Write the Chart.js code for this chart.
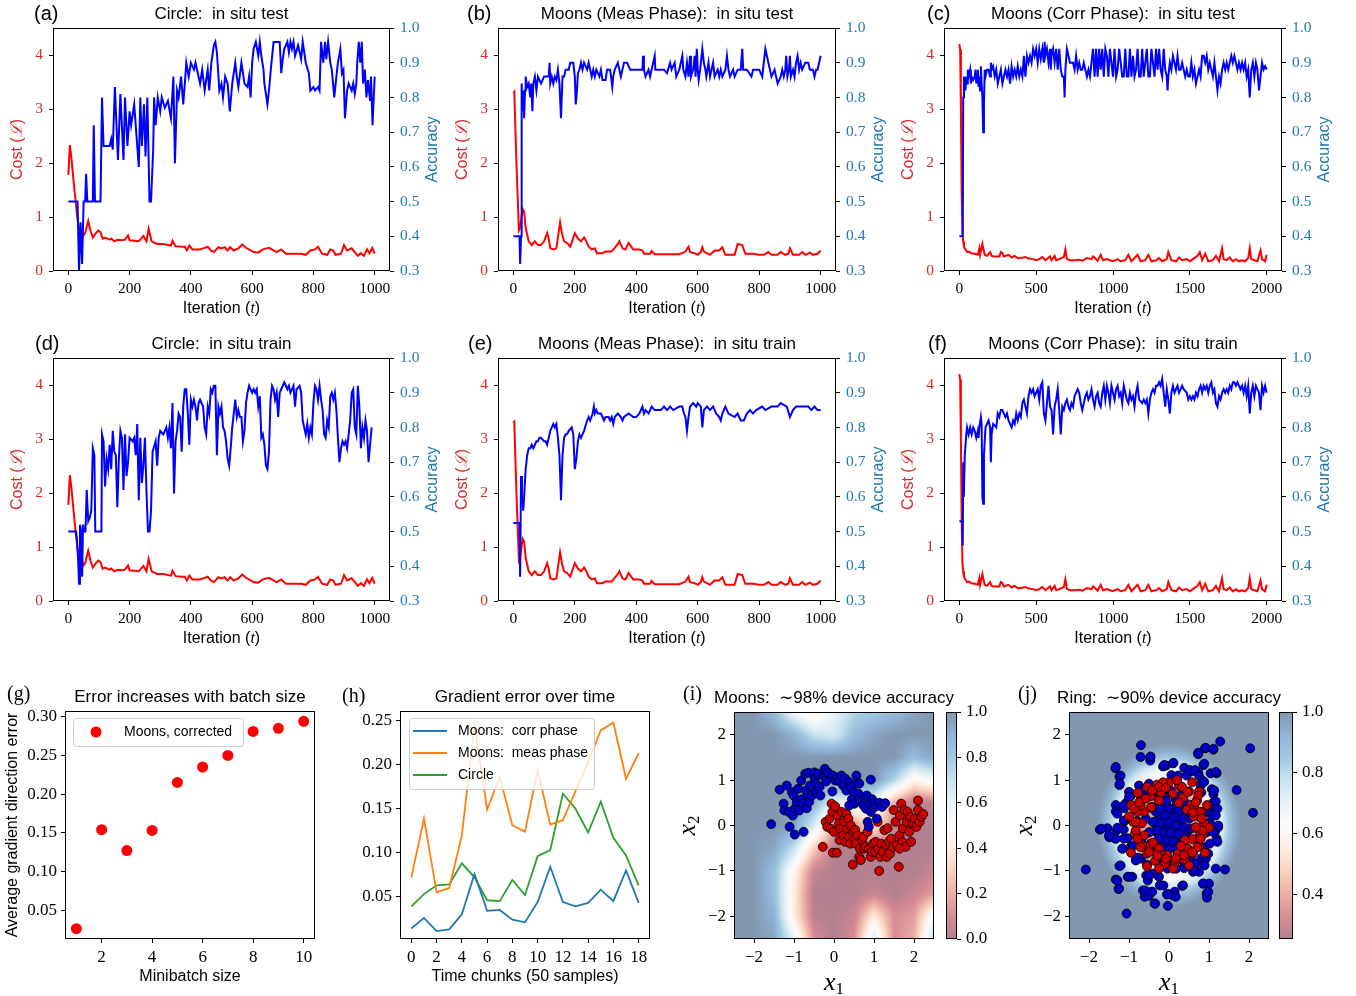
<!DOCTYPE html>
<html>
<head>
<meta charset="utf-8">
<script src="https://cdn.jsdelivr.net/npm/chart.js@4.4.1/dist/chart.umd.min.js"></script>
<style>
  body { margin: 0; background: #fff; width: 1356px; height: 996px; position: relative; overflow: hidden; }
  canvas { position: absolute; }
</style>
</head>
<body>
<canvas id="pa" width="450" height="322" style="left:0;top:0"></canvas>
<canvas id="pb" width="445" height="322" style="left:450px;top:0"></canvas>
<canvas id="pc" width="461" height="322" style="left:895px;top:0"></canvas>
<canvas id="pd" width="450" height="322" style="left:0;top:330px"></canvas>
<canvas id="pe" width="445" height="322" style="left:450px;top:330px"></canvas>
<canvas id="pf" width="461" height="322" style="left:895px;top:330px"></canvas>
<canvas id="pg" width="330" height="321" style="left:0;top:675px"></canvas>
<canvas id="ph" width="330" height="321" style="left:330px;top:675px"></canvas>
<canvas id="pi" width="340" height="321" style="left:660px;top:675px"></canvas>
<canvas id="cbi" width="70" height="321" style="left:940px;top:675px"></canvas>
<canvas id="pj" width="346" height="321" style="left:1010px;top:675px"></canvas>
<canvas id="cbj" width="84" height="321" style="left:1272px;top:675px"></canvas>
<script>
// ---- data ----
// tick labels
const itTicks1000 = [0, 200, 400, 600, 800, 1000];
const itTicks2000 = [0, 500, 1000, 1500, 2000];
const costTicks = [0, 1, 2, 3, 4];
const accTicks = [0.3, 0.4, 0.5, 0.6, 0.7, 0.8, 0.9, 1.0];
const batchTicks = [2, 4, 6, 8, 10];
const gradTicks = [0.05, 0.10, 0.15, 0.20, 0.25, 0.30];
const chunkTicks = [0, 2, 4, 6, 8, 10, 12, 14, 16, 18];
const errTicks = [0.05, 0.10, 0.15, 0.20, 0.25];
const mapTicks = [-2, -1, 0, 1, 2];
const cbTicksI = [0.0, 0.2, 0.4, 0.6, 0.8, 1.0];
const cbTicksJ = [0.4, 0.6, 0.8, 1.0];

// cost curves (shared by the test / train panels of each task), [iteration, cost]
const costCircle = [[0,1.78],[5,2.33],[10,2.1],[20,1.5],[30,0.95],[38,0.72],[45,0.75],[50,0.66],[55,0.7],[60,0.82],[65,0.93],[72,0.75],[80,0.62],[90,0.7],[98,0.75],[105,0.72],[112,0.6],[120,0.62],[135,0.58],[140,0.6],[150,0.55],[160,0.58],[175,0.57],[185,0.58],[195,0.66],[200,0.57],[215,0.56],[230,0.55],[245,0.65],[255,0.55],[262,0.78],[272,0.55],[290,0.5],[310,0.5],[325,0.48],[335,0.47],[340,0.56],[350,0.46],[370,0.45],[380,0.45],[387,0.38],[395,0.47],[405,0.4],[430,0.4],[440,0.42],[455,0.45],[465,0.38],[475,0.35],[490,0.44],[500,0.42],[510,0.44],[520,0.38],[528,0.44],[540,0.38],[555,0.42],[568,0.49],[580,0.43],[595,0.38],[605,0.35],[620,0.34],[635,0.4],[655,0.43],[670,0.38],[680,0.35],[695,0.4],[710,0.32],[740,0.32],[760,0.32],[775,0.3],[790,0.38],[805,0.4],[815,0.45],[828,0.32],[845,0.3],[855,0.4],[865,0.38],[872,0.3],[890,0.32],[900,0.48],[910,0.38],[925,0.42],[935,0.35],[945,0.28],[955,0.33],[965,0.28],[975,0.4],[983,0.33],[992,0.43],[1000,0.32]];
const costMeas = [[0,3.3],[3,3.32],[10,2.0],[18,0.75],[22,0.8],[30,1.15],[35,1.1],[40,0.8],[50,0.55],[60,0.48],[70,0.55],[80,0.48],[90,0.48],[100,0.55],[110,0.7],[115,0.6],[120,0.42],[130,0.4],[140,0.42],[152,0.9],[158,0.7],[165,0.55],[175,0.52],[185,0.45],[200,0.7],[210,0.6],[220,0.55],[230,0.62],[235,0.58],[245,0.45],[255,0.4],[265,0.42],[272,0.33],[290,0.33],[300,0.36],[320,0.36],[340,0.5],[345,0.55],[355,0.42],[365,0.4],[375,0.52],[380,0.48],[390,0.4],[410,0.4],[420,0.38],[425,0.32],[445,0.32],[450,0.37],[460,0.31],[500,0.31],[540,0.31],[560,0.36],[570,0.45],[575,0.35],[590,0.33],[600,0.3],[610,0.35],[615,0.44],[620,0.36],[640,0.3],[655,0.38],[670,0.38],[680,0.44],[690,0.3],[720,0.3],[730,0.5],[745,0.48],[755,0.32],[780,0.32],[800,0.3],[815,0.3],[830,0.35],[840,0.3],[860,0.3],[870,0.35],[885,0.3],[895,0.32],[900,0.42],[910,0.3],[930,0.3],[940,0.35],[950,0.3],[965,0.34],[975,0.3],[990,0.32],[1000,0.38]];
const costCorr = [[0,4.2],[5,4.1],[10,3.0],[15,1.5],[20,0.7],[25,0.55],[30,0.45],[40,0.4],[50,0.35],[60,0.36],[80,0.33],[100,0.32],[120,0.3],[130,0.42],[135,0.3],[150,0.5],[155,0.42],[165,0.3],[180,0.28],[200,0.35],[210,0.28],[230,0.27],[260,0.27],[270,0.35],[280,0.33],[290,0.27],[320,0.3],[340,0.25],[360,0.28],[380,0.24],[400,0.24],[430,0.26],[450,0.23],[480,0.22],[500,0.2],[520,0.22],[540,0.26],[560,0.2],[590,0.27],[600,0.2],[620,0.28],[630,0.2],[650,0.22],[680,0.26],[690,0.4],[700,0.22],[720,0.2],[750,0.2],[780,0.21],[800,0.19],[830,0.24],[860,0.22],[870,0.27],[880,0.25],[900,0.19],[920,0.3],[935,0.2],[960,0.22],[980,0.2],[1000,0.18],[1030,0.22],[1050,0.18],[1080,0.2],[1100,0.3],[1120,0.18],[1160,0.3],[1180,0.18],[1210,0.2],[1230,0.3],[1250,0.18],[1280,0.2],[1300,0.24],[1320,0.18],[1350,0.22],[1360,0.35],[1380,0.2],[1410,0.18],[1430,0.25],[1450,0.2],[1480,0.22],[1500,0.18],[1520,0.22],[1550,0.28],[1565,0.35],[1580,0.2],[1600,0.32],[1620,0.18],[1650,0.2],[1670,0.28],[1690,0.18],[1710,0.42],[1720,0.22],[1740,0.2],[1760,0.25],[1780,0.18],[1800,0.22],[1820,0.18],[1840,0.2],[1860,0.18],[1880,0.24],[1890,0.42],[1900,0.22],[1920,0.2],[1940,0.18],[1960,0.38],[1970,0.22],[1990,0.18],[2000,0.3]];

// accuracy curves, [iteration, accuracy]
const accA = [[0,.5],[30,.5],[35,.3],[40,.44],[45,.32],[50,.5],[55,.5],[58,.58],[62,.5],[80,.5],[83,.72],[87,.5],[105,.5],[110,.8],[115,.66],[135,.66],[140,.68],[145,.65],[152,.83],[162,.62],[170,.81],[180,.62],[185,.8],[193,.66],[200,.76],[205,.72],[215,.78],[230,.6],[235,.8],[240,.66],[247,.78],[252,.63],[258,.8],[265,.5],[270,.5],[277,.65],[280,.8],[285,.72],[292,.8],[300,.76],[305,.8],[315,.77],[325,.79],[335,.74],[343,.86],[348,.61],[355,.82],[360,.8],[368,.86],[375,.78],[382,.86],[385,.9],[393,.86],[400,.9],[410,.88],[415,.9],[430,.84],[437,.88],[445,.82],[455,.88],[460,.82],[467,.9],[475,.95],[480,.96],[485,.93],[493,.82],[500,.84],[505,.8],[512,.86],[520,.84],[527,.76],[535,.84],[545,.9],[550,.86],[555,.83],[565,.9],[575,.84],[585,.83],[590,.86],[595,.8],[600,.9],[605,.94],[612,.96],[620,.92],[625,.96],[630,.92],[637,.88],[640,.84],[650,.78],[655,.82],[662,.89],[670,.96],[680,.96],[690,.96],[695,.87],[700,.91],[705,.94],[715,.96],[720,.93],[725,.96],[730,.94],[735,.96],[740,.92],[750,.95],[760,.91],[765,.96],[775,.9],[785,.87],[790,.82],[800,.83],[805,.82],[815,.83],[820,.82],[825,.96],[832,.9],[838,.96],[842,.91],[848,.96],[855,.9],[860,.88],[868,.8],[875,.86],[880,.9],[888,.94],[893,.87],[898,.88],[903,.74],[910,.82],[915,.84],[925,.82],[930,.84],[935,.81],[940,.84],[943,.9],[948,.96],[953,.9],[958,.96],[962,.84],[968,.88],[973,.8],[978,.85],[985,.79],[988,.86],[993,.72],[1000,.86]];
const accB = [[0,.4],[20,.4],[22,.32],[25,.4],[27,.84],[30,.76],[33,.82],[35,.74],[38,.82],[40,.86],[45,.83],[50,.84],[55,.8],[58,.84],[62,.76],[65,.84],[70,.86],[75,.82],[80,.86],[90,.84],[100,.86],[115,.86],[118,.9],[120,.84],[125,.86],[130,.84],[135,.86],[140,.85],[145,.88],[150,.84],[155,.74],[160,.86],[165,.86],[170,.88],[180,.88],[185,.9],[195,.9],[200,.86],[203,.78],[207,.82],[210,.87],[215,.88],[220,.9],[225,.88],[230,.9],[240,.88],[245,.9],[250,.88],[255,.86],[260,.88],[265,.86],[270,.88],[280,.86],[285,.88],[290,.85],[300,.85],[305,.88],[315,.88],[322,.83],[325,.86],[330,.88],[340,.9],[350,.86],[355,.88],[360,.9],[370,.9],[380,.88],[420,.88],[422,.92],[425,.88],[430,.86],[440,.88],[445,.86],[450,.88],[460,.92],[462,.88],[490,.88],[500,.87],[510,.9],[515,.88],[525,.9],[530,.86],[540,.88],[550,.92],[553,.88],[560,.86],[565,.9],[570,.86],[575,.92],[578,.86],[585,.88],[590,.92],[593,.86],[597,.94],[600,.88],[603,.85],[608,.88],[615,.94],[620,.9],[625,.88],[628,.86],[635,.9],[640,.86],[645,.88],[650,.9],[655,.86],[665,.88],[670,.86],[675,.88],[680,.86],[690,.88],[695,.92],[700,.88],[705,.86],[715,.88],[720,.86],[730,.88],[740,.88],[745,.94],[748,.88],[760,.88],[775,.86],[780,.88],[800,.88],[810,.86],[815,.9],[820,.94],[825,.92],[830,.9],[835,.88],[840,.86],[850,.88],[855,.86],[860,.84],[870,.86],[875,.88],[880,.86],[885,.88],[888,.92],[892,.86],[897,.88],[900,.92],[903,.86],[910,.88],[915,.86],[920,.9],[925,.92],[930,.88],[935,.9],[940,.88],[950,.9],[960,.9],[965,.88],[975,.88],[980,.86],[985,.88],[990,.88],[995,.9],[1000,.92]];
const accC = [[0,.4],[22,.4],[25,.8],[30,.86],[40,.82],[45,.86],[50,.84],[55,.88],[60,.86],[70,.88],[75,.84],[80,.86],[90,.85],[100,.86],[105,.88],[110,.84],[115,.86],[120,.88],[125,.83],[130,.86],[135,.82],[140,.89],[145,.84],[150,.8],[155,.7],[160,.78],[165,.88],[170,.86],[180,.88],[190,.88],[200,.86],[205,.9],[210,.88],[220,.89],[230,.86],[240,.88],[250,.84],[260,.86],[270,.88],[280,.84],[290,.86],[300,.88],[310,.86],[320,.88],[330,.84],[340,.89],[350,.86],[360,.88],[370,.86],[380,.89],[390,.86],[400,.88],[410,.86],[420,.92],[425,.88],[430,.86],[440,.92],[450,.9],[460,.92],[470,.9],[480,.94],[490,.92],[500,.94],[510,.9],[520,.94],[530,.91],[540,.94],[550,.9],[555,.96],[560,.92],[570,.94],[580,.9],[590,.94],[595,.88],[600,.92],[610,.94],[620,.9],[630,.94],[640,.88],[650,.94],[660,.88],[670,.86],[680,.86],[685,.8],[690,.88],[700,.94],[710,.92],[720,.9],[730,.9],[740,.9],[750,.88],[760,.92],[770,.88],[780,.9],[790,.88],[800,.88],[810,.9],[820,.88],[830,.86],[840,.88],[850,.86],[860,.9],[870,.94],[880,.86],[890,.94],[900,.86],[910,.94],[920,.88],[930,.94],[940,.86],[950,.94],[960,.92],[970,.86],[980,.94],[990,.9],[1000,.86],[1010,.94],[1020,.86],[1030,.88],[1040,.94],[1050,.9],[1060,.86],[1070,.86],[1080,.94],[1090,.86],[1100,.86],[1110,.94],[1120,.86],[1130,.92],[1140,.86],[1150,.88],[1160,.94],[1170,.86],[1180,.86],[1190,.94],[1200,.86],[1210,.9],[1220,.94],[1230,.86],[1240,.86],[1250,.94],[1260,.9],[1270,.86],[1280,.94],[1290,.88],[1300,.94],[1310,.88],[1320,.86],[1330,.94],[1340,.88],[1350,.86],[1355,.82],[1360,.86],[1370,.9],[1380,.88],[1390,.92],[1400,.9],[1410,.88],[1420,.92],[1430,.88],[1440,.88],[1450,.9],[1460,.88],[1470,.86],[1480,.88],[1490,.86],[1500,.86],[1510,.9],[1520,.86],[1530,.88],[1540,.84],[1550,.86],[1560,.88],[1570,.86],[1580,.92],[1590,.92],[1600,.9],[1610,.92],[1620,.88],[1630,.9],[1640,.88],[1650,.86],[1660,.9],[1670,.86],[1680,.82],[1690,.86],[1700,.84],[1710,.88],[1720,.9],[1730,.88],[1740,.9],[1750,.88],[1760,.9],[1770,.92],[1780,.9],[1790,.92],[1800,.9],[1810,.88],[1820,.9],[1830,.88],[1840,.9],[1850,.88],[1860,.9],[1870,.86],[1880,.88],[1890,.8],[1900,.88],[1910,.9],[1920,.86],[1930,.9],[1940,.88],[1950,.82],[1960,.86],[1970,.9],[1980,.88],[1990,.89],[2000,.88]];
const accD = [[0,.5],[25,.5],[28,.48],[32,.42],[35,.35],[38,.52],[42,.5],[45,.37],[48,.52],[52,.5],[56,.5],[60,.62],[65,.53],[70,.54],[75,.56],[80,.74],[85,.72],[88,.5],[108,.5],[110,.78],[115,.76],[120,.63],[125,.71],[130,.68],[135,.75],[140,.68],[145,.79],[150,.73],[155,.72],[160,.57],[165,.71],[170,.79],[175,.77],[180,.62],[185,.78],[190,.66],[195,.7],[200,.77],[210,.76],[215,.77],[220,.72],[225,.81],[230,.59],[235,.77],[240,.64],[245,.69],[250,.77],[255,.62],[260,.5],[265,.5],[270,.56],[275,.73],[285,.76],[290,.69],[295,.77],[300,.79],[310,.78],[320,.8],[325,.77],[330,.8],[335,.74],[340,.87],[345,.61],[350,.76],[355,.79],[360,.84],[365,.83],[370,.73],[375,.86],[380,.91],[385,.91],[390,.84],[395,.75],[400,.88],[405,.86],[410,.88],[415,.86],[420,.82],[425,.87],[430,.88],[440,.86],[445,.8],[450,.78],[455,.86],[460,.84],[465,.91],[470,.9],[475,.92],[480,.92],[485,.72],[490,.86],[495,.84],[500,.86],[505,.8],[510,.79],[515,.76],[520,.71],[525,.69],[530,.74],[535,.8],[545,.88],[550,.83],[555,.85],[560,.83],[565,.83],[570,.76],[575,.79],[580,.87],[585,.9],[590,.92],[595,.91],[600,.9],[605,.91],[610,.9],[615,.91],[620,.86],[625,.89],[630,.77],[635,.78],[640,.75],[645,.69],[650,.68],[655,.73],[660,.88],[665,.92],[670,.91],[675,.88],[680,.9],[685,.83],[690,.9],[695,.91],[700,.92],[705,.93],[710,.92],[715,.91],[720,.92],[725,.9],[735,.92],[740,.86],[745,.91],[755,.92],[760,.9],[765,.82],[770,.8],[775,.78],[780,.81],[785,.77],[790,.8],[795,.78],[800,.87],[805,.92],[810,.91],[815,.88],[820,.92],[825,.88],[830,.85],[835,.78],[840,.77],[845,.82],[850,.8],[855,.89],[860,.9],[865,.88],[870,.9],[875,.85],[880,.77],[885,.7],[890,.74],[895,.76],[900,.75],[905,.76],[910,.74],[920,.82],[925,.9],[930,.91],[935,.8],[940,.78],[945,.92],[950,.86],[955,.74],[960,.8],[965,.77],[970,.82],[975,.79],[980,.7],[985,.75],[990,.8]];
const accE = [[0,.525],[20,.525],[22,.37],[25,.66],[28,.58],[30,.6],[32,.56],[35,.6],[40,.68],[45,.72],[50,.74],[55,.74],[60,.75],[65,.74],[70,.75],[75,.76],[80,.76],[85,.77],[90,.77],[100,.76],[105,.76],[110,.75],[115,.77],[120,.79],[125,.8],[130,.81],[135,.8],[140,.81],[145,.77],[150,.72],[155,.59],[160,.72],[165,.77],[170,.78],[175,.78],[180,.79],[190,.8],[195,.78],[200,.68],[205,.71],[210,.76],[215,.78],[220,.77],[225,.78],[230,.79],[240,.82],[245,.83],[250,.82],[258,.84],[262,.86],[265,.84],[270,.85],[275,.84],[285,.84],[290,.83],[295,.82],[300,.83],[310,.83],[315,.82],[320,.83],[325,.81],[330,.83],[340,.84],[350,.83],[355,.82],[360,.83],[375,.84],[390,.83],[400,.83],[410,.84],[415,.85],[420,.86],[425,.84],[430,.85],[440,.84],[450,.86],[460,.85],[480,.85],[490,.86],[500,.85],[510,.86],[520,.85],[540,.86],[550,.86],[555,.84],[560,.83],[565,.79],[570,.83],[575,.86],[585,.87],[595,.86],[600,.87],[610,.86],[615,.8],[620,.85],[630,.86],[640,.85],[650,.86],[660,.84],[670,.83],[675,.82],[680,.84],[690,.86],[700,.84],[720,.83],[730,.84],[740,.82],[750,.82],[760,.84],[770,.85],[780,.84],[790,.85],[810,.86],[820,.85],[840,.86],[860,.86],[870,.87],[890,.86],[900,.83],[910,.85],[920,.86],[950,.86],[960,.86],[970,.85],[980,.86],[990,.85],[1000,.85]];
const accF = [[0,.53],[20,.53],[22,.46],[25,.7],[28,.6],[30,.6],[35,.72],[40,.75],[45,.78],[50,.8],[60,.78],[70,.8],[80,.78],[90,.8],[100,.79],[110,.77],[120,.79],[125,.77],[130,.8],[140,.83],[145,.81],[150,.6],[155,.58],[160,.72],[170,.8],[180,.81],[190,.82],[200,.8],[205,.7],[210,.78],[220,.81],[240,.8],[250,.84],[260,.83],[270,.85],[280,.85],[290,.84],[300,.83],[310,.84],[320,.82],[330,.81],[340,.8],[350,.82],[360,.81],[370,.84],[380,.82],[390,.84],[400,.83],[410,.87],[420,.88],[430,.86],[440,.84],[450,.89],[460,.91],[470,.9],[480,.91],[490,.89],[500,.9],[510,.91],[520,.88],[530,.92],[540,.93],[550,.84],[560,.82],[570,.87],[580,.92],[590,.86],[600,.85],[610,.78],[620,.86],[630,.88],[640,.91],[650,.85],[660,.78],[670,.86],[680,.85],[690,.87],[700,.88],[710,.86],[720,.85],[730,.87],[740,.86],[750,.89],[760,.9],[770,.91],[780,.9],[790,.87],[800,.85],[810,.87],[820,.89],[830,.9],[840,.88],[850,.89],[860,.91],[870,.88],[880,.86],[890,.89],[900,.9],[910,.87],[920,.86],[930,.9],[940,.92],[950,.88],[960,.92],[970,.9],[980,.87],[990,.92],[1000,.9],[1010,.88],[1020,.91],[1030,.92],[1040,.89],[1050,.9],[1060,.87],[1070,.92],[1080,.9],[1090,.88],[1100,.87],[1110,.9],[1120,.88],[1130,.89],[1140,.86],[1150,.9],[1160,.92],[1170,.88],[1190,.87],[1200,.88],[1210,.87],[1220,.88],[1230,.84],[1240,.88],[1250,.9],[1260,.91],[1270,.9],[1280,.92],[1290,.92],[1300,.93],[1310,.92],[1320,.94],[1330,.9],[1340,.86],[1350,.91],[1360,.88],[1370,.84],[1380,.9],[1390,.92],[1400,.9],[1410,.91],[1420,.92],[1430,.9],[1440,.91],[1450,.92],[1460,.91],[1480,.9],[1490,.88],[1500,.89],[1510,.88],[1520,.89],[1530,.88],[1540,.9],[1550,.89],[1560,.91],[1570,.92],[1580,.9],[1590,.92],[1600,.91],[1610,.92],[1620,.9],[1630,.92],[1640,.93],[1650,.9],[1660,.91],[1670,.87],[1680,.86],[1690,.89],[1700,.88],[1710,.9],[1720,.91],[1730,.9],[1740,.91],[1750,.9],[1760,.92],[1770,.91],[1780,.93],[1790,.93],[1800,.92],[1810,.93],[1820,.92],[1830,.91],[1840,.92],[1850,.9],[1860,.92],[1870,.89],[1880,.92],[1890,.84],[1900,.9],[1910,.92],[1920,.89],[1930,.92],[1940,.91],[1950,.9],[1960,.85],[1970,.92],[1980,.9],[1990,.92],[2000,.9]];

// (g) gradient error vs minibatch size
const batchSizes = [1, 2, 3, 4, 5, 6, 7, 8, 9, 10];
const gradErr = [0.026, 0.154, 0.127, 0.153, 0.215, 0.235, 0.250, 0.281, 0.285, 0.294];

// (h) gradient error over time chunks
const chunks = [0, 1, 2, 3, 4, 5, 6, 7, 8, 9, 10, 11, 12, 13, 14, 15, 16, 17, 18];
const errCorr = [0.014, 0.026, 0.011, 0.013, 0.030, 0.076, 0.034, 0.035, 0.024, 0.021, 0.044, 0.084, 0.044, 0.039, 0.043, 0.058, 0.045, 0.080, 0.043];
const errMeas = [0.072, 0.139, 0.055, 0.060, 0.120, 0.245, 0.149, 0.186, 0.131, 0.124, 0.194, 0.132, 0.137, 0.170, 0.203, 0.239, 0.248, 0.184, 0.213];
const errCircle = [0.039, 0.053, 0.063, 0.064, 0.088, 0.072, 0.046, 0.045, 0.069, 0.052, 0.096, 0.103, 0.167, 0.150, 0.123, 0.158, 0.117, 0.097, 0.063];

// (i) moons: device output on a grid, rows y = 2.5 .. -2.5, cols x = -2.5 .. 2.5 (step 0.5)
const moonGridX = [-2.5, 2.5];
const moonGridY = [2.5, -2.5];
const moonGrid = [
  [1, 1, 0.85, 0.55, 0.4, 0.6, 0.75, 0.8, 0.85, 0.95, 1],
  [1, 1, 1, 0.9, 0.7, 0.65, 0.85, 0.95, 1, 1, 1],
  [1, 1, 1, 1, 1, 1, 1, 1, 1, 0.85, 0.95],
  [1, 1, 1, 1, 1, 1, 1, 1, 0.75, 0.45, 0.55],
  [1, 1, 1, 1, 0.9, 0.6, 0.6, 0.55, 0.2, 0.0, 0.05],
  [1, 1, 1, 0.95, 0.65, 0.2, 0.1, 0.4, 0.05, 0, 0],
  [1, 1, 0.95, 0.7, 0.3, 0, 0, 0, 0, 0, 0],
  [1, 1, 0.85, 0.45, 0.05, 0, 0, 0, 0, 0, 0.05],
  [1, 1, 0.85, 0.4, 0, 0, 0, 0.05, 0, 0.05, 0.15],
  [1, 1, 0.9, 0.4, 0.02, 0, 0.05, 0.4, 0.1, 0.15, 0.55],
  [1, 1, 0.95, 0.6, 0.1, 0, 0.1, 0.65, 0.1, 0.2, 0.75]
];
const moonBlue = [[-1.57,0.03],[-1.36,0.79],[-1.26,0.48],[-1.24,0.33],[-1.18,0.88],[-1.13,0.30],[-1.11,-0.03],[-1.05,0.73],[-1.03,0.22],[-1.01,0.66],[-0.98,-0.20],[-0.97,0.38],[-0.93,0.52],[-0.90,0.81],[-0.87,0.33],[-0.82,0.99],[-0.80,0.58],[-0.78,0.48],[-0.76,-0.14],[-0.72,1.14],[-0.70,0.77],[-0.68,0.38],[-0.65,0.70],[-0.64,1.16],[-0.62,0.52],[-0.60,0.88],[-0.55,0.66],[-0.49,1.17],[-0.48,1.03],[-0.45,0.92],[-0.44,0.74],[-0.40,1.14],[-0.36,0.85],[-0.34,0.66],[-0.27,1.10],[-0.23,1.25],[-0.22,1.10],[-0.20,0.97],[-0.15,1.17],[-0.04,0.75],[-0.03,1.10],[0.03,0.99],[0.08,1.06],[0.14,0.97],[0.19,1.10],[0.23,0.88],[0.28,1.03],[0.31,0.77],[0.38,0.95],[0.42,0.85],[0.45,0.58],[0.49,0.74],[0.51,0.48],[0.56,1.10],[0.59,0.95],[0.61,0.70],[0.63,0.92],[0.67,0.52],[0.74,0.44],[0.80,0.37],[0.82,0.66],[0.84,0.08],[0.87,-0.03],[0.88,0.48],[0.92,1.01],[0.92,0.30],[0.95,0.58],[0.98,0.48],[1.03,0.41],[1.07,0.15],[1.13,0.50],[1.20,0.41],[1.28,0.49],[0.38,0.44]];
const moonRed = [[-0.28,-0.47],[-0.21,0.08],[-0.17,-0.03],[-0.11,0.15],[-0.08,-0.07],[-0.06,0.48],[-0.04,0.30],[-0.03,-0.60],[0.00,-0.14],[0.03,0.42],[0.07,-0.60],[0.08,0.22],[0.12,0.04],[0.14,-0.32],[0.16,-0.07],[0.19,0.30],[0.23,-0.22],[0.25,0.08],[0.28,-0.36],[0.31,0.26],[0.34,-0.07],[0.36,0.15],[0.38,-0.25],[0.41,-0.40],[0.42,0.00],[0.47,-0.86],[0.48,-0.14],[0.51,-0.29],[0.53,-0.10],[0.55,-0.40],[0.59,-0.22],[0.63,-0.69],[0.65,-0.51],[0.67,-0.76],[0.70,-0.32],[0.73,-0.25],[0.75,-0.51],[0.79,-0.47],[0.84,-0.14],[0.88,-0.51],[0.92,-0.69],[0.95,-0.58],[0.98,-0.40],[1.03,-0.58],[1.04,-0.36],[1.09,0.08],[1.11,-0.51],[1.13,-1.00],[1.16,-0.69],[1.18,-0.40],[1.22,-0.58],[1.26,-0.10],[1.29,-0.43],[1.32,-0.69],[1.34,-0.06],[1.37,-0.36],[1.40,-0.62],[1.43,-0.29],[1.47,-0.47],[1.49,0.34],[1.54,0.08],[1.57,-0.43],[1.62,-0.91],[1.64,-0.22],[1.65,0.22],[1.68,0.48],[1.71,-0.36],[1.72,-0.06],[1.76,0.34],[1.79,-0.47],[1.82,0.08],[1.84,0.30],[1.88,-0.14],[1.90,0.19],[1.93,-0.36],[1.97,0.04],[2.02,0.15],[2.06,-0.03],[2.10,0.55],[2.10,0.34],[2.14,0.08],[2.18,0.19],[2.23,0.25],[1.64,-0.51]];

// (j) ring: device output as a function of radius
const ringR = [0, 0.25, 0.45, 0.6, 0.75, 0.9, 1.05, 1.2, 1.35, 1.5, 1.65, 1.8];
const ringV = [0.55, 0.5, 0.42, 0.36, 0.36, 0.45, 0.6, 0.66, 0.75, 0.86, 0.95, 1.0];
const ringMin = 0.254, ringMax = 1.0;
const ringBlue = [[-2.08,-0.97],[-0.70,1.77],[1.28,1.85],[2.03,1.70],[2.10,0.28],[1.69,0.78],[0.73,1.57],[0.90,1.70],[1.11,1.67],[0.86,1.33],[0.73,1.17],[1.04,1.15],[1.19,1.15],[0.56,1.19],[0.44,1.10],[0.10,1.37],[-0.07,1.32],[0.23,1.10],[0.06,1.11],[-0.15,1.30],[-0.71,1.51],[-0.47,1.50],[-0.47,1.43],[-1.34,1.26],[-1.24,1.07],[-1.24,0.89],[-0.99,0.73],[-0.96,0.64],[-1.07,0.50],[-1.33,0.45],[-1.33,0.31],[-1.12,0.38],[-1.73,-0.09],[-1.54,-0.06],[-1.49,-0.26],[-1.31,-0.11],[-1.34,-0.29],[-1.12,0.09],[-1.13,-0.09],[-1.03,-0.28],[-1.16,-0.51],[-0.97,-0.51],[-1.24,-0.89],[-1.33,-1.19],[-1.26,-1.40],[-1.03,-1.13],[-0.92,-1.13],[-1.06,-1.94],[-0.82,-0.72],[-0.70,-0.73],[-0.55,-0.86],[-0.57,-1.10],[-0.53,-1.21],[-0.65,-1.43],[-0.61,-1.57],[-0.44,-1.46],[-0.36,-1.72],[-0.23,-1.32],[-0.05,-1.52],[-0.03,-1.77],[0.10,-1.54],[0.14,-1.46],[0.33,-1.33],[-0.03,-0.84],[0.13,-0.91],[0.39,-0.86],[0.60,-1.02],[0.67,-0.84],[0.81,-0.72],[0.86,-1.28],[1.00,-1.28],[0.94,-1.50],[0.95,-1.59],[1.17,-0.95],[0.88,-0.48],[1.02,-0.40],[1.19,-0.29],[1.23,-0.04],[1.15,-0.13],[1.02,0.07],[1.07,0.22],[1.11,0.51],[1.11,0.69],[1.07,0.80],[0.79,0.88],[0.81,0.73],[0.84,0.96],[1.11,0.31],[1.17,0.38],[0.94,-0.15],[1.40,-0.97],
  [0.92,1.71],[1.11,1.69],[0.73,1.60],[-0.46,1.52],[-1.33,1.29],[-1.21,1.10],[-1.23,0.92],[-0.12,1.33],[0.11,1.38],[0.38,1.27],[0.52,1.22],[0.65,1.22],[0.88,1.36],[1.17,1.18],[0.75,1.10],[0.83,1.00],[0.88,0.96],[1.13,0.77],[1.17,0.53],[1.21,0.37],[1.17,0.22],[1.23,0.00],[1.10,-0.14],[1.21,-0.36],[0.98,-0.62],[0.92,-0.73],[0.89,-0.88],[0.75,-1.02],[0.85,-1.28],[0.98,-1.46],[0.63,-0.99],[0.38,-0.94],[0.18,-0.95],[-0.04,-0.95],[-0.25,-1.13],[-0.40,-1.06],[-0.50,-1.10],[-0.60,-1.43],[-0.50,-1.55],[-0.42,-1.46],[-0.14,-1.32],[-0.03,-1.51],[0.17,-1.57],[0.35,-1.32],[-0.35,-1.72],[-0.77,-0.71],[-0.83,-0.77],[-1.00,-1.13],[-1.21,-0.88],[-1.25,-1.39],[-1.29,-1.21],[-1.17,-0.51],[-0.96,-0.47],[-1.13,-0.29],[-1.33,-0.29],[-1.50,-0.22],[-1.69,-0.07],[-1.29,-0.05],[-1.13,0.11],[-1.29,0.26],[-1.13,0.44],[-1.00,0.74],[-1.00,0.63],[-0.75,0.88],[-0.61,0.81],[-0.50,0.92],
  [-0.40,0.37],[-0.23,0.44],[-0.07,0.48],[0.14,0.40],[0.27,0.33],[-0.23,0.22],[-0.07,0.15],[0.10,0.22],[0.31,0.15],[-0.32,0.00],[-0.15,-0.04],[0.02,0.00],[0.18,-0.07],[0.35,-0.04],[-0.28,-0.18],[-0.07,-0.22],[0.10,-0.26],[0.27,-0.22],[-0.19,-0.37],[0.02,-0.44],[0.23,-0.40],[-0.40,0.07],[0.44,0.22],[0.44,-0.15],[-0.49,-0.15],[-0.15,0.62],[0.18,0.62],[0.02,0.73],[-0.32,0.66],[0.39,0.51],[-0.80,0.10],[-0.70,-0.35],[0.75,0.20],[0.70,-0.30],[-0.30,-0.75],[0.30,0.85],[-0.55,0.70],[0.55,-0.70],[-0.90,-0.45],[0.95,0.30],
  [-0.33,0.30],[-0.21,0.37],[0.00,0.37],[0.21,0.30],[-0.08,0.22],[0.13,0.18],[0.33,0.15],[-0.38,0.08],[-0.21,0.04],[0.00,0.07],[0.17,0.00],[0.38,-0.04],[-0.29,-0.11],[-0.12,-0.15],[0.04,-0.16],[0.25,-0.18],[0.42,-0.26],[-0.25,-0.29],[-0.04,-0.33],[0.13,-0.37],[0.29,-0.40],[-0.17,-0.48],[0.00,-0.51],[0.17,-0.53],[-0.42,0.41],[-0.08,0.55],[0.17,0.57],[0.38,0.48],[-0.50,-0.15],[-0.46,-0.40],[0.50,0.15],[0.54,-0.07],[-0.58,0.15],[-0.33,-0.59],[0.46,-0.51],[0.29,0.66],[-0.17,0.74],[0.04,0.77],[-0.42,0.66]];
const ringRed = [[-0.55,0.85],[-0.30,0.90],[0.00,0.95],[0.25,0.88],[0.50,0.75],[0.70,0.55],[0.82,0.30],[0.88,0.05],[0.85,-0.20],[0.75,-0.45],[0.60,-0.62],[0.40,-0.75],[0.15,-0.82],[-0.10,-0.85],[-0.35,-0.78],[-0.55,-0.62],[-0.72,-0.42],[-0.85,-0.18],[-0.90,0.08],[-0.82,0.35],[-0.70,0.58],[-0.45,0.65],[-0.20,0.72],[0.10,0.70],[0.35,0.62],[0.55,0.45],[0.62,0.20],[0.65,-0.05],[0.58,-0.30],[0.45,-0.50],[0.22,-0.62],[-0.05,-0.65],[-0.30,-0.58],[-0.50,-0.45],[-0.62,-0.22],[-0.68,0.05],[-0.62,0.30],[-0.45,0.40],[0.45,0.35],[0.40,-0.32],[-0.40,-0.38],[-0.25,0.55],[0.25,0.50],[0.30,-0.45],[-0.25,-0.50],[-0.95,-0.60],[-0.55,-0.90],[0.75,0.75],[1.00,-0.05],[-1.00,0.20],[0.90,-0.60],[0.20,1.00],[-0.15,0.95],[0.10,-0.95],[-0.78,0.72],[0.58,0.95],[-0.95,0.45],[0.95,0.45],[0.50,-0.88],[-0.25,-0.95],[0.78,-0.15],
  [-0.25,0.85],[-0.08,0.83],[0.33,0.85],[0.46,0.74],[0.73,0.66],[0.63,0.41],[0.79,0.30],[0.82,0.15],[0.83,-0.11],[0.79,-0.29],[0.71,-0.48],[0.58,-0.59],[0.38,-0.66],[0.17,-0.73],[-0.08,-0.73],[-0.29,-0.66],[-0.50,-0.59],[-0.67,-0.44],[-0.79,-0.29],[-0.83,-0.11],[-0.83,0.08],[-0.79,0.30],[-0.71,0.44],[-0.58,0.59],[-0.42,0.77],[-0.87,0.37],[-0.75,0.51],[0.67,0.51],[0.60,0.29],[0.67,-0.04],[-0.71,-0.48]];

// ---- styling helpers ----
const SANS = '"Liberation Sans", Arial, sans-serif';
const SERIF = '"Liberation Serif", "Times New Roman", serif';
const RED_T = '#d62728', BLUE_T = '#1f77b4';
const RDBU = ['#67001f', '#b2182b', '#d6604d', '#f4a582', '#fddbc7', '#f7f7f7', '#d1e5f0', '#92c5de', '#4393c3', '#2166ac', '#053061'];

const pts = pairs => pairs.map(([x, y]) => ({ x, y }));
const minus = v => (v < 0 ? '\u2212' + Math.abs(v) : String(v));
const fixTicks = list => s => { s.ticks = list.map(v => ({ value: v })); };

function hexRgb(h) {
  return [1, 3, 5].map(i => parseInt(h.slice(i, i + 2), 16));
}
// RdBu at alpha 0.5 over white
function cmap(t) {
  t = Math.max(0, Math.min(1, t));
  const f = t * 10, i = Math.min(9, Math.floor(f)), u = f - i;
  const a = hexRgb(RDBU[i]), b = hexRgb(RDBU[i + 1]);
  return a.map((c, k) => Math.round(0.5 * (c + (b[k] - c) * u) + 127.5));
}
const css = rgb => `rgb(${rgb[0]},${rgb[1]},${rgb[2]})`;

function tickGrid() {
  return { display: true, drawOnChartArea: false, drawTicks: true, tickLength: 4, color: '#000', lineWidth: 1 };
}

function put(ctx, s, x, y, font, color, rot, align) {
  ctx.save();
  ctx.translate(x, y);
  if (rot) ctx.rotate(rot);
  ctx.font = font;
  ctx.fillStyle = color || '#000';
  ctx.textAlign = align || 'center';
  ctx.textBaseline = 'middle';
  ctx.fillText(s, 0, 0);
  ctx.restore();
}

// text made of pieces in different fonts: [[text, font, dy], ...], centred on (x, y)
function putRich(ctx, segs, x, y, color, rot) {
  ctx.save();
  ctx.translate(x, y);
  if (rot) ctx.rotate(rot);
  ctx.fillStyle = color || '#000';
  ctx.textBaseline = 'middle';
  ctx.textAlign = 'left';
  let w = 0;
  segs.forEach(s => { ctx.font = s[1]; w += ctx.measureText(s[0]).width; });
  let px = -w / 2;
  segs.forEach(s => {
    ctx.font = s[1];
    ctx.fillText(s[0], px, s[2] || 0);
    px += ctx.measureText(s[0]).width;
  });
  ctx.restore();
}

function drawLegend(chart, L) {
  const ctx = chart.ctx;
  ctx.save();
  ctx.beginPath();
  ctx.roundRect(L.x + 0.5, L.y + 0.5, L.w, L.h, 3);
  ctx.fillStyle = 'rgba(255,255,255,0.8)';
  ctx.fill();
  ctx.strokeStyle = '#cccccc';
  ctx.lineWidth = 1;
  ctx.stroke();
  chart.data.datasets.forEach((d, i) => {
    const y = L.y + L.first + i * L.rowH;
    if (d.showLine === false) {
      ctx.beginPath();
      ctx.arc(L.x + L.markX, y, d.pointRadius, 0, Math.PI * 2);
      ctx.fillStyle = d.backgroundColor;
      ctx.fill();
    } else {
      ctx.beginPath();
      ctx.moveTo(L.x + L.lineX0, y);
      ctx.lineTo(L.x + L.lineX1, y);
      ctx.strokeStyle = d.borderColor;
      ctx.lineWidth = d.borderWidth;
      ctx.stroke();
    }
    put(ctx, d.label, L.x + L.textX, y, '14px ' + SANS, '#000', 0, 'left');
  });
  ctx.restore();
}

// frame, panel letter, title, axis labels, legend
function decor(c) {
  return {
    id: 'decor',
    afterDraw(chart) {
      const { ctx, chartArea: a } = chart;
      const cx = (a.left + a.right) / 2, cy = (a.top + a.bottom) / 2;
      if (c.legend) drawLegend(chart, c.legend);
      ctx.save();
      ctx.strokeStyle = '#000';
      ctx.lineWidth = 1;
      ctx.strokeRect(a.left + 0.5, a.top + 0.5, a.right - a.left - 1, a.bottom - a.top - 1);
      ctx.restore();
      if (c.letter) put(ctx, c.letter, c.letterX, c.letterY, c.letterFont, '#000', 0, 'left');
      if (c.title) put(ctx, c.title, cx, c.titleY, '17px ' + SANS);
      if (c.xLabel) putRich(ctx, c.xLabel, cx, a.bottom + c.xDy);
      if (c.yLabel) putRich(ctx, c.yLabel, a.left - c.yDx, cy, c.yColor, -Math.PI / 2);
      if (c.y2Label) putRich(ctx, c.y2Label, a.right + c.y2Dx, cy, c.y2Color, -Math.PI / 2);
    }
  };
}

const LBL = '16px ' + SANS;
const LBL_IT = 'italic 16px ' + SERIF;

// ---- top six panels: cost (left) and accuracy (right) ----
const trainPanels = [
  { id: 'pa', cost: costCircle, acc: accA, xMax: 1000, xt: itTicks1000, yw: 53, y2w: 60, letter: '(a)', lx: 34, title: 'Circle:  in situ test' },
  { id: 'pb', cost: costMeas, acc: accB, xMax: 1000, xt: itTicks1000, yw: 48, y2w: 59, letter: '(b)', lx: 17, title: 'Moons (Meas Phase):  in situ test' },
  { id: 'pc', cost: costCorr, acc: accC, xMax: 2000, xt: itTicks2000, yw: 49, y2w: 74, letter: '(c)', lx: 32, title: 'Moons (Corr Phase):  in situ test' },
  { id: 'pd', cost: costCircle, acc: accD, xMax: 1000, xt: itTicks1000, yw: 53, y2w: 60, letter: '(d)', lx: 35, title: 'Circle:  in situ train' },
  { id: 'pe', cost: costMeas, acc: accE, xMax: 1000, xt: itTicks1000, yw: 48, y2w: 59, letter: '(e)', lx: 18, title: 'Moons (Meas Phase):  in situ train' },
  { id: 'pf', cost: costCorr, acc: accF, xMax: 2000, xt: itTicks2000, yw: 49, y2w: 74, letter: '(f)', lx: 33, title: 'Moons (Corr Phase):  in situ train' }
];

const TICK_TOP = { size: 15.5, family: SERIF };

trainPanels.forEach(p => {
  new Chart(document.getElementById(p.id), {
    type: 'line',
    data: {
      datasets: [
        { data: pts(p.acc), yAxisID: 'y1', borderColor: '#0000ff', borderWidth: 2, pointRadius: 0, tension: 0 },
        { data: pts(p.cost), yAxisID: 'y', borderColor: '#ff0000', borderWidth: 2, pointRadius: 0, tension: 0 }
      ]
    },
    options: {
      responsive: false,
      animation: false,
      events: [],
      layout: { padding: { top: 28, left: 0, right: 0, bottom: 0 } },
      plugins: { legend: { display: false }, tooltip: { enabled: false } },
      scales: {
        x: {
          type: 'linear', min: -0.05 * p.xMax, max: 1.05 * p.xMax,
          afterBuildTicks: fixTicks(p.xt),
          ticks: { autoSkip: false, maxRotation: 0, padding: 5, color: '#000', font: TICK_TOP, callback: v => String(v) },
          grid: tickGrid(), border: { display: false },
          afterFit: s => { s.height = 51; }
        },
        y: {
          position: 'left', min: 0, max: 4.5,
          afterBuildTicks: fixTicks(costTicks),
          ticks: { padding: 6, color: RED_T, font: TICK_TOP, callback: v => String(v) },
          grid: tickGrid(), border: { display: false },
          afterFit: s => { s.width = p.yw; }
        },
        y1: {
          position: 'right', min: 0.3, max: 1.0,
          afterBuildTicks: fixTicks(accTicks),
          ticks: { padding: 6, color: BLUE_T, font: TICK_TOP, callback: v => v.toFixed(1) },
          grid: tickGrid(), border: { display: false },
          afterFit: s => { s.width = p.y2w; }
        }
      }
    },
    plugins: [decor({
      letter: p.letter, letterX: p.lx, letterY: 14, letterFont: '20px ' + SANS,
      title: p.title, titleY: 14,
      xLabel: [['Iteration (', LBL], ['t', LBL_IT], [')', LBL]], xDy: 38,
      yLabel: [['Cost (', LBL], ['\u2112', LBL_IT], [')', LBL]], yDx: 35, yColor: RED_T,
      y2Label: [['Accuracy', LBL]], y2Dx: 43, y2Color: BLUE_T
    })]
  });
});

const TICK_BOT = { size: 17, family: SERIF };

// ---- (g) ----
new Chart(document.getElementById('pg'), {
  type: 'scatter',
  data: {
    datasets: [{
      label: 'Moons, corrected', showLine: false,
      data: batchSizes.map((b, i) => ({ x: b, y: gradErr[i] })),
      backgroundColor: '#ff0000', borderWidth: 0, pointRadius: 5.5
    }]
  },
  options: {
    responsive: false, animation: false, events: [],
    layout: { padding: { top: 36, right: 15, left: 0, bottom: 0 } },
    plugins: { legend: { display: false }, tooltip: { enabled: false } },
    scales: {
      x: {
        type: 'linear', min: 0.55, max: 10.45,
        afterBuildTicks: fixTicks(batchTicks),
        ticks: { autoSkip: false, maxRotation: 0, padding: 4, color: '#000', font: TICK_BOT, callback: v => String(v) },
        grid: tickGrid(), border: { display: false },
        afterFit: s => { s.height = 57; }
      },
      y: {
        min: 0.0126, max: 0.3074,
        afterBuildTicks: fixTicks(gradTicks),
        ticks: { padding: 4, color: '#000', font: TICK_BOT, callback: v => v.toFixed(2) },
        grid: tickGrid(), border: { display: false },
        afterFit: s => { s.width = 65; }
      }
    }
  },
  plugins: [decor({
    letter: '(g)', letterX: 7, letterY: 20, letterFont: '20px ' + SERIF,
    title: 'Error increases with batch size', titleY: 22,
    xLabel: [['Minibatch size', LBL]], xDy: 38,
    yLabel: [['Average gradient direction error', LBL]], yDx: 52,
    legend: { x: 73, y: 43, w: 170, h: 28, first: 14, rowH: 22, markX: 23, textX: 51 }
  })]
});

// ---- (h) ----
new Chart(document.getElementById('ph'), {
  type: 'line',
  data: {
    datasets: [
      { label: 'Moons:  corr phase', data: chunks.map((c, i) => ({ x: c, y: errCorr[i] })), borderColor: '#1f77b4', borderWidth: 1.8, pointRadius: 0 },
      { label: 'Moons:  meas phase', data: chunks.map((c, i) => ({ x: c, y: errMeas[i] })), borderColor: '#ff7f0e', borderWidth: 1.8, pointRadius: 0 },
      { label: 'Circle', data: chunks.map((c, i) => ({ x: c, y: errCircle[i] })), borderColor: '#2ca02c', borderWidth: 1.8, pointRadius: 0 }
    ]
  },
  options: {
    responsive: false, animation: false, events: [],
    layout: { padding: { top: 36, right: 10, left: 0, bottom: 0 } },
    plugins: { legend: { display: false }, tooltip: { enabled: false } },
    scales: {
      x: {
        type: 'linear', min: -0.9, max: 18.9,
        afterBuildTicks: fixTicks(chunkTicks),
        ticks: { autoSkip: false, maxRotation: 0, padding: 4, color: '#000', font: TICK_BOT, callback: v => String(v) },
        grid: tickGrid(), border: { display: false },
        afterFit: s => { s.height = 57; }
      },
      y: {
        min: 0.002, max: 0.261,
        afterBuildTicks: fixTicks(errTicks),
        ticks: { padding: 4, color: '#000', font: TICK_BOT, callback: v => v.toFixed(2) },
        grid: tickGrid(), border: { display: false },
        afterFit: s => { s.width = 70; }
      }
    }
  },
  plugins: [decor({
    letter: '(h)', letterX: 12, letterY: 22, letterFont: '20px ' + SERIF,
    title: 'Gradient error over time', titleY: 22,
    xLabel: [['Time chunks (50 samples)', LBL]], xDy: 38,
    legend: { x: 79, y: 43, w: 185, h: 71, first: 13, rowH: 22, lineX0: 4, lineX1: 38, textX: 49 }
  })]
});

// ---- decision maps ----
// shade every plot pixel: its data position comes from the chart scales,
// the value is blended from the four surrounding grid nodes
function gridLayer(grid, xr, yr) {
  const n = grid.length, m = grid[0].length;
  function valueAt(xv, yv) {
    const gx = Math.max(0, Math.min(m - 1, (xv - xr[0]) / (xr[1] - xr[0]) * (m - 1)));
    const gy = Math.max(0, Math.min(n - 1, (yv - yr[0]) / (yr[1] - yr[0]) * (n - 1)));
    const j = Math.min(m - 2, Math.floor(gx)), i = Math.min(n - 2, Math.floor(gy));
    const u = gx - j, w = gy - i;
    return (grid[i][j] * (1 - u) + grid[i][j + 1] * u) * (1 - w) + (grid[i + 1][j] * (1 - u) + grid[i + 1][j + 1] * u) * w;
  }
  return {
    id: 'gridLayer',
    beforeDatasetsDraw(chart) {
      const { ctx, chartArea: a, scales: { x, y } } = chart;
      const W = Math.round(a.right - a.left), H = Math.round(a.bottom - a.top);
      const img = ctx.createImageData(W, H);
      for (let py = 0; py < H; py++) {
        const yv = y.getValueForPixel(a.top + py + 0.5);
        for (let px = 0; px < W; px++) {
          const c = cmap(valueAt(x.getValueForPixel(a.left + px + 0.5), yv));
          const k = (py * W + px) * 4;
          img.data[k] = c[0]; img.data[k + 1] = c[1]; img.data[k + 2] = c[2]; img.data[k + 3] = 255;
        }
      }
      ctx.putImageData(img, Math.round(a.left), Math.round(a.top));
    }
  };
}

function ringLayer(rs, vs, vmin, vmax) {
  return {
    id: 'ringLayer',
    beforeDatasetsDraw(chart) {
      const { ctx, chartArea: a, scales: { x, y } } = chart;
      const cx = x.getPixelForValue(0), cy = y.getPixelForValue(0);
      const sx = x.getPixelForValue(1) - cx, sy = cy - y.getPixelForValue(1);
      const R = rs[rs.length - 1] * sx;
      ctx.save();
      ctx.beginPath(); ctx.rect(a.left, a.top, a.right - a.left, a.bottom - a.top); ctx.clip();
      ctx.fillStyle = css(cmap((vs[vs.length - 1] - vmin) / (vmax - vmin)));
      ctx.fillRect(a.left, a.top, a.right - a.left, a.bottom - a.top);
      ctx.translate(cx, cy);
      ctx.scale(1, sy / sx);
      const gr = ctx.createRadialGradient(0, 0, 0, 0, 0, R);
      rs.forEach((r, i) => gr.addColorStop(r / rs[rs.length - 1], css(cmap((vs[i] - vmin) / (vmax - vmin)))));
      ctx.fillStyle = gr;
      ctx.beginPath(); ctx.arc(0, 0, R, 0, Math.PI * 2); ctx.fill();
      ctx.restore();
    }
  };
}

function mapPanel(id, blue, red, layer, yw, rightPad, letter, lx, title, yDx, redOnTop) {
  const blueSet = { data: pts(blue), backgroundColor: 'rgb(0,0,200)', borderColor: '#000', borderWidth: 0.8, pointRadius: 4.5 };
  const redSet = { data: pts(red), backgroundColor: 'rgb(205,0,0)', borderColor: '#000', borderWidth: 0.8, pointRadius: 4.5 };
  new Chart(document.getElementById(id), {
    type: 'scatter',
    data: { datasets: redOnTop ? [redSet, blueSet] : [blueSet, redSet] },
    options: {
      responsive: false, animation: false, events: [],
      layout: { padding: { top: 37, right: rightPad, left: 0, bottom: 0 } },
      plugins: { legend: { display: false }, tooltip: { enabled: false } },
      scales: {
        x: {
          type: 'linear', min: -2.5, max: 2.5,
          afterBuildTicks: fixTicks(mapTicks),
          ticks: { autoSkip: false, maxRotation: 0, padding: 4, color: '#000', font: TICK_BOT, callback: minus },
          grid: tickGrid(), border: { display: false },
          afterFit: s => { s.height = 57; }
        },
        y: {
          min: -2.5, max: 2.5,
          afterBuildTicks: fixTicks(mapTicks),
          ticks: { padding: 4, color: '#000', font: TICK_BOT, callback: minus },
          grid: tickGrid(), border: { display: false },
          afterFit: s => { s.width = yw; }
        }
      }
    },
    plugins: [layer, decor({
      letter: letter, letterX: lx, letterY: 20, letterFont: '20px ' + SERIF,
      title: title, titleY: 23,
      xLabel: [['x', 'italic 26px ' + SERIF, 0], ['1', '17px ' + SERIF, 7]], xDy: 44,
      yLabel: [['x', 'italic 26px ' + SERIF, 0], ['2', '17px ' + SERIF, 7]], yDx: yDx
    })]
  });
}

mapPanel('pi', moonBlue, moonRed, gridLayer(moonGrid, moonGridX, moonGridY), 74, 66, '(i)', 23, 'Moons:  \u223C98% device accuracy', 46, false);
mapPanel('pj', ringBlue, ringRed, ringLayer(ringR, ringV, ringMin, ringMax), 59, 87, '(j)', 8, 'Ring:  \u223C90% device accuracy', 44, true);

// ---- colour bars ----
function colorBar(id, vmin, vmax, ticks, padLeft, axisW) {
  new Chart(document.getElementById(id), {
    type: 'scatter',
    data: { datasets: [] },
    options: {
      responsive: false, animation: false, events: [],
      layout: { padding: { top: 37, bottom: 57, left: padLeft, right: 0 } },
      plugins: { legend: { display: false }, tooltip: { enabled: false } },
      scales: {
        x: { display: false, min: 0, max: 1 },
        y: {
          position: 'right', min: vmin, max: vmax,
          afterBuildTicks: fixTicks(ticks),
          ticks: { padding: 5, color: '#000', font: TICK_BOT, callback: v => v.toFixed(1) },
          grid: tickGrid(), border: { display: false },
          afterFit: s => { s.width = axisW; }
        }
      }
    },
    plugins: [{
      id: 'cbar',
      afterDraw(chart) {
        const { ctx, chartArea: a } = chart;
        ctx.save();
        const gr = ctx.createLinearGradient(0, a.bottom, 0, a.top);
        RDBU.forEach((_, i) => gr.addColorStop(i / 10, css(cmap(i / 10))));
        ctx.fillStyle = gr;
        ctx.fillRect(a.left, a.top, a.right - a.left, a.bottom - a.top);
        ctx.strokeStyle = '#000';
        ctx.lineWidth = 1;
        ctx.strokeRect(a.left + 0.5, a.top + 0.5, a.right - a.left - 1, a.bottom - a.top - 1);
        ctx.restore();
      }
    }]
  });
}

colorBar('cbi', 0, 1, cbTicksI, 6, 53);
colorBar('cbj', ringMin, ringMax, cbTicksJ, 7, 63);
</script>
</body>
</html>
